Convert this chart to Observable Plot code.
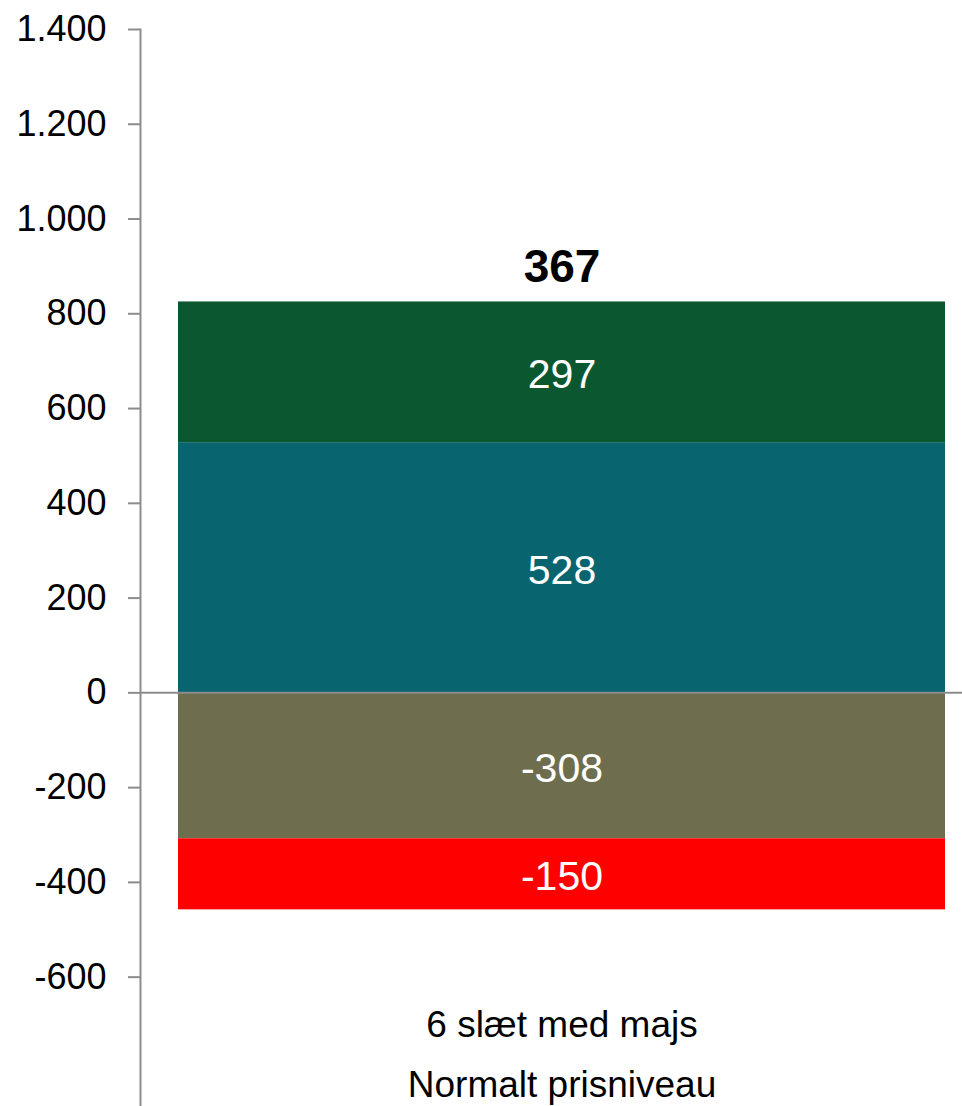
<!DOCTYPE html>
<html>
<head>
<meta charset="utf-8">
<script src="https://cdn.jsdelivr.net/npm/d3@7"></script>
<script src="https://cdn.jsdelivr.net/npm/@observablehq/plot@0.6"></script>
<style>
  html, body { margin: 0; padding: 0; background: #fff; }
  svg { display: block; font-family: "Liberation Sans", Arial, sans-serif; }
</style>
</head>
<body>
<div id="chart"></div>
<script>
const category = "6 slæt med majs";
const subCategory = "Normalt prisniveau";
const series = ["Serie A", "Serie B", "Serie C", "Serie D"];
const values = [528, 297, -308, -150];
const colors = ["#08646F", "#0B5730", "#6E6E4F", "#FF0000"];
const yTicks = [-600, -400, -200, 0, 200, 400, 600, 800, 1000, 1200, 1400];
const yDomain = [-873, 1400];

const data = series.map((s, i) => ({category, series: s, value: values[i]}));
const total = d3.sum(values);
const positiveTop = d3.sum(values.filter(v => v > 0));

const fmt = v => (v < 0 ? "-" : "") + d3.format(",")(Math.abs(v)).replace(/,/g, ".");

const chart = Plot.plot({
  width: 962,
  height: 1106,
  marginTop: 29,
  marginBottom: 0,
  marginLeft: 140,
  marginRight: 0,
  style: {fontFamily: '"Liberation Sans", Arial, sans-serif', background: "#fff"},
  x: {domain: [category], range: [178, 945], padding: 0, axis: null},
  y: {domain: yDomain, axis: null},
  color: {domain: series, range: colors},
  marks: [
    Plot.barY(data, {x: "category", y: "value", fill: "series", order: null}),
    Plot.ruleY([0], {stroke: "#8c8c8c", strokeWidth: 2}),
    Plot.frame({anchor: "left", stroke: "#8c8c8c", strokeWidth: 2}),
    Plot.axisY({
      ticks: yTicks,
      tickSize: 12,
      tickPadding: 22,
      stroke: "#8c8c8c",
      strokeWidth: 2,
      fontSize: 36,
      fill: "#000",
      tickFormat: fmt,
      label: null
    }),
    Plot.text(data, Plot.stackY({
      x: "category", y: "value", z: "series",
      text: d => fmt(d.value),
      fill: "#fff", fontSize: 41, dy: 3
    })),
    Plot.text([total], {
      x: () => category, y: () => positiveTop,
      text: d => fmt(d),
      fontSize: 46, fontWeight: "bold", fill: "#000",
      lineAnchor: "bottom", dy: -20
    }),
    Plot.text([category + "\n" + subCategory], {
      x: () => category, frameAnchor: "bottom",
      text: d => d, fontSize: 37, fill: "#000",
      lineAnchor: "bottom", lineHeight: 1.6, dy: -10
    })
  ]
});
document.getElementById("chart").appendChild(chart);
</script>
</body>
</html>
